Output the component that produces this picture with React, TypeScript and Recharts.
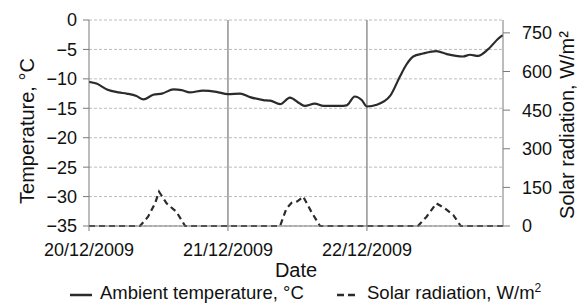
import { ComposedChart, Line, XAxis, YAxis, CartesianGrid, ReferenceLine, Label } from "recharts";

// hours since 20/12/2009 00:00
const tempHours = [0, 1.3, 3.1, 5.1, 6.5, 8.2, 9.4, 11.1, 12.6, 14.6, 16.0, 17.4, 19.7, 22.0, 24.0, 26.1, 27.8, 30.1, 31.3, 33.0, 34.7, 36.4, 37.3, 39.0, 40.5, 43.3, 44.5, 45.9, 47.1, 48.0, 49.7, 52.0, 53.7, 54.8, 56.0, 57.7, 60.0, 61.8, 64.6, 65.8, 67.2, 68.9, 71.0, 71.5];
const tempValues = [-10.5, -10.8, -11.8, -12.3, -12.5, -12.9, -13.5, -12.7, -12.5, -11.8, -11.9, -12.3, -12.0, -12.2, -12.6, -12.5, -13.1, -13.6, -13.7, -14.3, -13.2, -14.2, -14.6, -14.2, -14.6, -14.6, -14.5, -13.0, -13.6, -14.7, -14.4, -12.9, -9.6, -7.6, -6.2, -5.7, -5.3, -5.8, -6.2, -5.9, -6.1, -5.0, -2.9, -2.6];

const solarHours = [0, 8.8, 10.2, 11.4, 12.1, 13.4, 15.1, 16.6, 33.0, 34.1, 35.0, 36.0, 37.0, 38.4, 39.9, 56.8, 58.3, 60.0, 61.5, 62.9, 64.2, 71.5];
const solarValues = [0, 0, 36, 88, 133, 88, 55, 0, 0, 68, 90, 96, 114, 55, 0, 0, 36, 88, 68, 43, 0, 0];

const dayTicks = [0, 24, 48];
const dayLabels = ["20/12/2009", "21/12/2009", "22/12/2009"];
const tempTicks = [-35, -30, -25, -20, -15, -10, -5, 0];
const solarTicks = [0, 150, 300, 450, 600, 750];

const tempData = tempHours.map((h, i) => ({ h, temp: tempValues[i] }));
const solarData = solarHours.map((h, i) => ({ h, solar: solarValues[i] }));

const FONT = "'Liberation Sans', Arial, sans-serif";
const tickStyle = { fontSize: 18, fill: "#111", fontFamily: FONT };

function SideTitle(props: any) {
  const vb = props.viewBox || {};
  const cx = props.side === "left" ? vb.x + 19 : vb.x + 64;
  const cy = vb.y + vb.height / 2 + (props.side === "left" ? 8 : 2);
  return (
    <text
      x={cx}
      y={cy}
      transform={`rotate(-90 ${cx} ${cy})`}
      textAnchor="middle"
      dominantBaseline="central"
      fontSize={20}
      fontFamily={FONT}
      fill="#111"
    >
      {props.value}
    </text>
  );
}

export default function App() {
  return (
    <div style={{ position: "relative", width: 572, height: 297 }}>
      <ComposedChart width={572} height={297} margin={{ top: 12, right: 0, left: 0, bottom: 0 }}>
        <CartesianGrid yAxisId="t" vertical={false} stroke="#bdbdbd" strokeDasharray="3 2" />
        <XAxis
          dataKey="h"
          type="number"
          domain={[0, 71.5]}
          ticks={dayTicks}
          tickFormatter={(v) => dayLabels[dayTicks.indexOf(v)] ?? ""}
          height={79}
          tick={tickStyle}
          tickSize={5}
          tickMargin={12}
          stroke="#7a7a7a"
          allowDataOverflow
        >
          <Label value="Date" position="insideBottom" offset={28} style={{ fontSize: 20, fill: "#111", fontFamily: FONT }} />
        </XAxis>
        <YAxis
          yAxisId="t"
          domain={[-35, 0]}
          ticks={tempTicks}
          width={81}
          tick={tickStyle}
          tickSize={6}
          tickMargin={6}
          stroke="#7a7a7a"
          tickFormatter={(v) => String(v).replace("-", "\u2212")}
        >
          <Label value="Temperature, °C" content={<SideTitle side="left" />} />
        </YAxis>
        <YAxis
          yAxisId="s"
          orientation="right"
          domain={[0, 800]}
          ticks={solarTicks}
          width={77}
          tick={tickStyle}
          tickSize={7}
          tickMargin={12}
          stroke="#7a7a7a"
        >
          <Label value="Solar radiation, W/m²" content={<SideTitle side="right" />} />
        </YAxis>
        {dayTicks.slice(1).map((d) => (
          <ReferenceLine key={d} x={d} yAxisId="t" stroke="#777" strokeWidth={1.2} />
        ))}
        <Line
          yAxisId="s"
          data={solarData}
          dataKey="solar"
          type="linear"
          stroke="#2b2b2b"
          strokeWidth={2.2}
          strokeDasharray="6 4"
          dot={false}
          isAnimationActive={false}
        />
        <Line
          yAxisId="t"
          data={tempData}
          dataKey="temp"
          type="monotone"
          stroke="#2b2b2b"
          strokeWidth={2.2}
          dot={false}
          isAnimationActive={false}
        />
      </ComposedChart>
      <div
        style={{
          position: "absolute",
          top: 275,
          left: 0,
          width: 580,
          fontFamily: FONT,
          fontSize: 18.5,
          lineHeight: "19px",
          color: "#111",
          whiteSpace: "nowrap",
        }}
      >
        <svg width={24} height={6} style={{ position: "absolute", left: 62, top: 9 }}>
          <line x1={0} y1={3} x2={22} y2={3} stroke="#2b2b2b" strokeWidth={2.5} />
        </svg>
        <span style={{ position: "absolute", left: 92, top: 0 }}>Ambient temperature, °C</span>
        <svg width={20} height={6} style={{ position: "absolute", left: 329, top: 9 }}>
          <line x1={0} y1={3} x2={18} y2={3} stroke="#2b2b2b" strokeWidth={2.5} strokeDasharray="7 4" />
        </svg>
        <span style={{ position: "absolute", left: 359, top: 0 }}>
          Solar radiation, W/m<sup style={{ fontSize: 12, lineHeight: 0 }}>2</sup>
        </span>
      </div>
    </div>
  );
}
